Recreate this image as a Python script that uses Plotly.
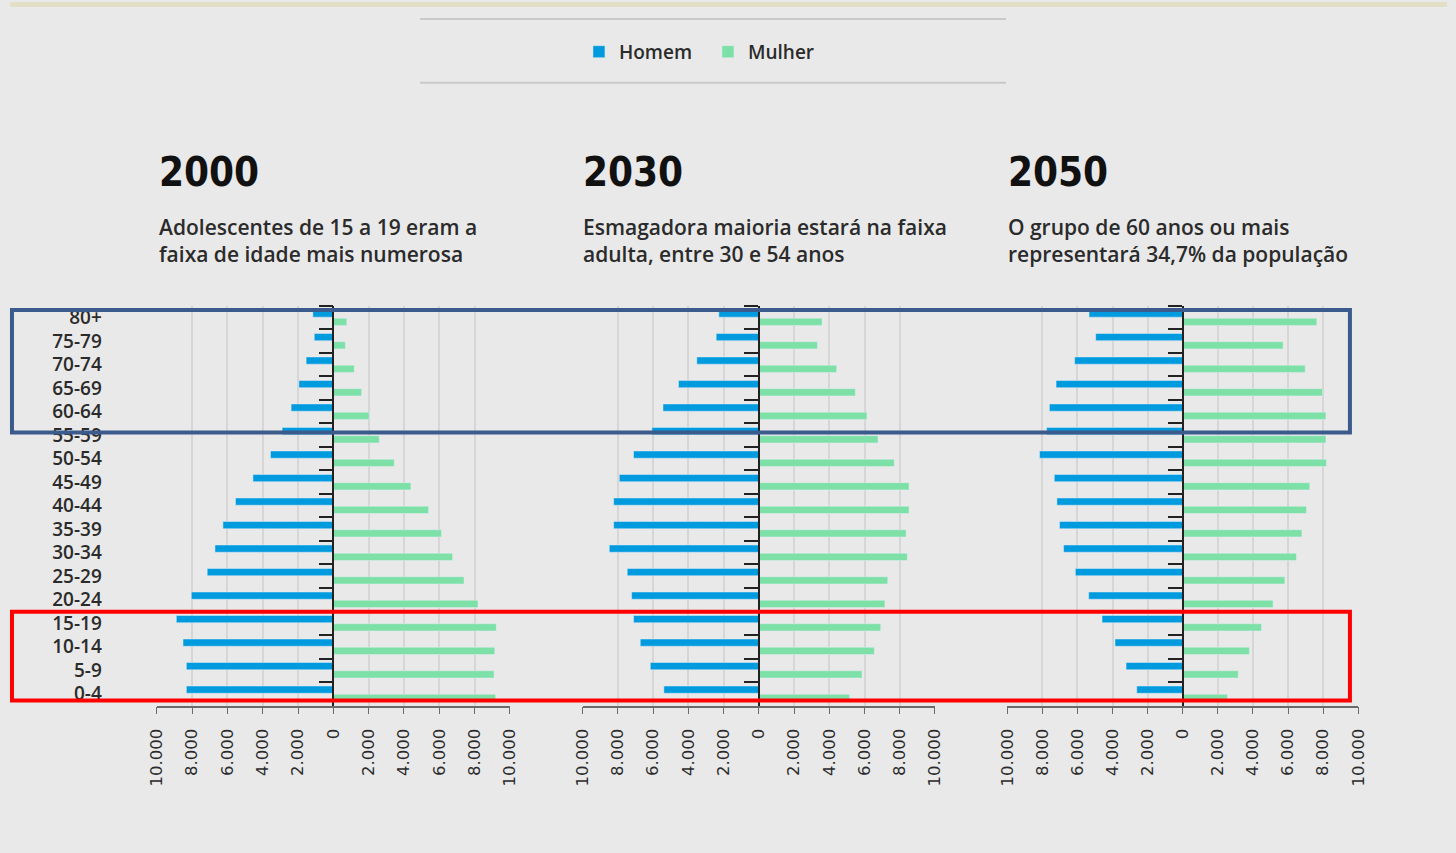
import plotly.graph_objects as go

W, H = 1456, 853

ages = ["0-4", "5-9", "10-14", "15-19", "20-24", "25-29", "30-34", "35-39", "40-44",
        "45-49", "50-54", "55-59", "60-64", "65-69", "70-74", "75-79", "80+"]

years = ["2000", "2030", "2050"]
subtitles = [
    "Adolescentes de 15 a 19 eram a<br>faixa de idade mais numerosa",
    "Esmagadora maioria estará na faixa<br>adulta, entre 30 e 54 anos",
    "O grupo de 60 anos ou mais<br>representará 34,7% da população",
]

# values in thousands of people, ordered as `ages`
homem_2000 = [8320, 8320, 8510, 8890, 8040, 7140, 6700, 6250, 5540, 4550, 3560, 2900, 2390, 1950, 1540, 1080, 1160]
mulher_2000 = [9190, 9100, 9140, 9230, 8190, 7400, 6750, 6120, 5390, 4390, 3450, 2600, 2030, 1600, 1190, 680, 760]
homem_2030 = [5390, 6160, 6730, 7110, 7220, 7470, 8490, 8240, 8240, 7920, 7110, 6070, 5440, 4560, 3520, 2420, 2270]
mulher_2030 = [5160, 5860, 6560, 6920, 7160, 7320, 8430, 8360, 8530, 8530, 7690, 6770, 6140, 5480, 4420, 3330, 3590]
homem_2050 = [2620, 3230, 3860, 4600, 5360, 6120, 6790, 7020, 7170, 7320, 8160, 7760, 7600, 7220, 6160, 4960, 5340]
mulher_2050 = [2550, 3160, 3800, 4490, 5150, 5820, 6480, 6790, 7050, 7240, 8190, 8160, 8160, 7970, 6980, 5720, 7640]

homem = [homem_2000, homem_2030, homem_2050]
mulher = [mulher_2000, mulher_2030, mulher_2050]

tick_vals = [-10000, -8000, -6000, -4000, -2000, 0, 2000, 4000, 6000, 8000, 10000]
tick_text = ["10.000", "8.000", "6.000", "4.000", "2.000", "0", "2.000", "4.000", "6.000", "8.000", "10.000"]

C_HOMEM = "#009ADE"
C_MULHER = "#7DE0A6"
BG = "#E9E9E9"
TXT = "#2B2B2B"
SANS = "Open Sans, Roboto, sans-serif"
COND = "DejaVu Sans Condensed, sans-serif"

# horizontal mapping of the rendered page into the photographed picture
PHOTO_X0, PHOTO_SX = 10.0, 0.987


def px_x(v):
    return max(0.0, (v - PHOTO_X0) / PHOTO_SX) / W


def px_y(v):
    return 1 - v / H


# plot areas (pixel, reference picture)
x_domains_px = [(156.7, 510.0), (582.7, 935.0), (1007.3, 1358.3)]
y_top_px, y_bot_px = 305, 706

fig = go.Figure()

for i in range(3):
    xa = "x" if i == 0 else f"x{i+1}"
    ya = "y" if i == 0 else f"y{i+1}"
    fig.add_trace(go.Bar(
        y=ages, x=mulher[i], orientation="h", name="Mulher",
        marker_color=C_MULHER, xaxis=xa, yaxis=ya,
        showlegend=(i == 0), legendgroup="m", legendrank=2,
    ))
    fig.add_trace(go.Bar(
        y=ages, x=[-v for v in homem[i]], orientation="h", name="Homem",
        marker_color=C_HOMEM, xaxis=xa, yaxis=ya,
        showlegend=(i == 0), legendgroup="h", legendrank=1,
    ))

layout = dict(
    autosize=True,
    margin=dict(l=0, r=0, t=0, b=0),
    paper_bgcolor=BG, plot_bgcolor=BG,
    barmode="group", bargap=0.3, bargroupgap=0.12,
    font=dict(family=SANS, color=TXT),
    legend=dict(
        orientation="h", x=px_x(708), y=px_y(50), xanchor="center", yanchor="middle",
        font=dict(size=19, family=SANS, weight=600, color=TXT),
        bgcolor="rgba(0,0,0,0)", itemwidth=30, entrywidth=84, entrywidthmode="pixels",
        traceorder="normal",
    ),
)

for i in range(3):
    sx = "" if i == 0 else str(i + 1)
    x0, x1 = x_domains_px[i]
    layout[f"xaxis{sx}"] = dict(
        domain=[px_x(x0), px_x(x1)],
        anchor=f"y{sx}",
        range=[-10000, 10000],
        tickvals=tick_vals, ticktext=tick_text, tickangle=-90,
        tickfont=dict(size=16.5, color=TXT, family="DejaVu Sans"),
        ticks="outside", ticklen=7, tickcolor="#6a6a6a", tickwidth=1.2,
        ticklabelstandoff=8,
        showline=True, linecolor="#6a6a6a", linewidth=1.5,
        showgrid=True, gridcolor="#D6D6D6", gridwidth=1.5,
        zeroline=False, fixedrange=True,
    )
    layout[f"yaxis{sx}"] = dict(
        domain=[px_y(y_bot_px), px_y(y_top_px)],
        anchor="free",
        position=(px_x(x0) + px_x(x1)) / 2,
        type="category", categoryorder="array", categoryarray=ages,
        range=[-0.5, len(ages) - 0.5],
        showline=True, linecolor="#222222", linewidth=1.5,
        ticks="outside", ticklen=14, tickcolor="#222222", tickwidth=1.5,
        tickson="boundaries",
        showticklabels=(i == 0),
        ticklabelstandoff=227,
        tickfont=dict(size=19, color=TXT, family=SANS, weight=600),
        showgrid=False, zeroline=False, fixedrange=True,
    )

fig.update_layout(**layout)

shapes = []
# textured border hint (top)
shapes.append(dict(type="rect", xref="paper", yref="paper", x0=0, x1=1, y0=px_y(5), y1=1,
                   fillcolor="#E3DEC6", line_width=0, layer="below"))
# legend rules
for yy in (17, 81):
    shapes.append(dict(type="line", xref="paper", yref="paper",
                       x0=px_x(420), x1=px_x(1006), y0=px_y(yy), y1=px_y(yy),
                       line=dict(color="#C9C9C9", width=2)))
# highlight boxes
box_left = 2 / W
shapes.append(dict(type="rect", xref="paper", yref="paper",
                   x0=box_left, x1=px_x(1350), y0=px_y(432), y1=px_y(309),
                   line=dict(color="#3A5B8C", width=4), fillcolor="rgba(0,0,0,0)", layer="above"))
shapes.append(dict(type="rect", xref="paper", yref="paper",
                   x0=box_left, x1=px_x(1350), y0=px_y(701), y1=px_y(612),
                   line=dict(color="#FF0000", width=4), fillcolor="rgba(0,0,0,0)", layer="above"))

annotations = []
title_x_px = [157, 581, 1006]
for i in range(3):
    annotations.append(dict(
        text=f"<b>{years[i]}</b>", xref="paper", yref="paper",
        x=px_x(title_x_px[i]), y=px_y(171), xanchor="left", yanchor="middle",
        showarrow=False,
        font=dict(size=40, family=COND, color="#111111"),
    ))
    annotations.append(dict(
        text=subtitles[i], xref="paper", yref="paper", align="left",
        x=px_x(title_x_px[i]), y=px_y(239), xanchor="left", yanchor="middle",
        showarrow=False, font=dict(size=21, family=SANS, weight=600, color=TXT),
    ))

fig.update_layout(shapes=shapes, annotations=annotations)

fig.write_html(
    "out.html",
    default_width="100vw",
    default_height="100vh",
    config={"displayModeBar": False},
    post_script="document.body.style.margin='0';document.body.style.overflow='hidden';",
)
